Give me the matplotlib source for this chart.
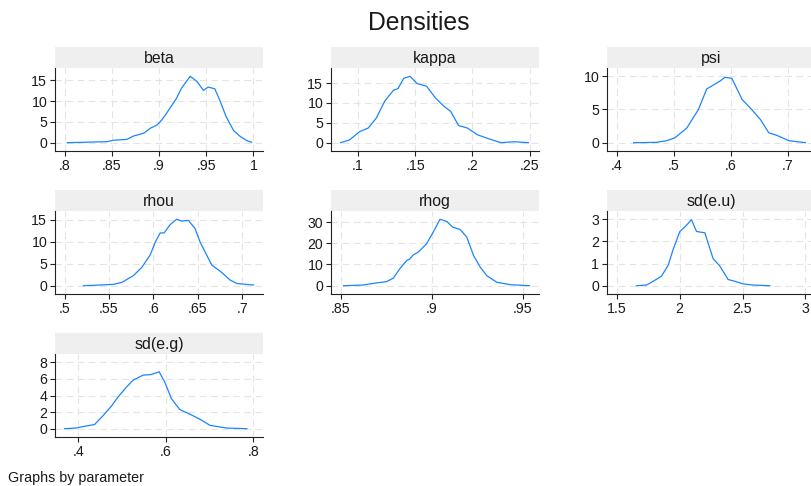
import matplotlib
matplotlib.use("Agg")
import matplotlib.pyplot as plt
import numpy as np

plt.rcParams['font.family'] = ['Liberation Sans', 'DejaVu Sans']

# ---- data (kernel density curves) ----
beta_x = [.803, .82, .845, .852, .866, .873, .884, .891, .898, .903, .908, .918, .924, .933,
          .940, .947, .952, .959, .964, .971, .979, .986, .993, .998]
beta_y = [0.0, 0.1, 0.25, 0.6, 0.8, 1.6, 2.3, 3.5, 4.3, 5.5, 7.1, 10.5, 13.2, 16.0,
          14.8, 12.6, 13.4, 13.0, 10.4, 6.3, 2.9, 1.5, 0.5, 0.1]

kappa_x = [.0847, .0926, .1015, .109, .116, .1235, .131, .135, .140, .1456, .1515, .160,
           .1676, .175, .181, .188, .1956, .2044, .2132, .225, .2368, .249]
kappa_y = [0.0, 0.7, 2.8, 3.7, 6.2, 10.5, 13.2, 13.6, 16.2, 16.7, 14.9, 14.2,
           11.3, 9.2, 7.9, 4.3, 3.7, 2.0, 1.1, 0.0, 0.25, 0.0]

psi_x = [.430, .470, .488, .5025, .523, .5435, .558, .570, .5816, .590, .602, .620,
         .634, .652, .6666, .681, .702, .731]
psi_y = [0.0, 0.05, 0.3, 0.75, 2.2, 5.0, 8.1, 8.7, 9.3, 9.85, 9.7, 6.5,
         5.25, 3.5, 1.5, 1.1, 0.3, 0.0]

rhou_x = [.5213, .540, .555, .5644, .5775, .587, .5963, .602, .6075, .612, .6187, .626,
          .6318, .6393, .6468, .6524, .6655, .6768, .686, .6936, .7124]
rhou_y = [0.0, 0.15, 0.3, 0.75, 2.3, 4.2, 7.0, 9.9, 12.0, 12.0, 13.9, 15.1,
          14.7, 14.85, 12.95, 9.9, 4.7, 3.0, 1.3, 0.5, 0.15]

rhog_x = [.8517, .8623, .8697, .8752, .8789, .8825, .8862, .888, .8899, .8926, .8972, .9009,
          .9046, .9083, .9116, .9156, .9193, .923, .9267, .9303, .9358, .9432, .9537]
rhog_y = [0.0, 0.3, 1.3, 1.9, 3.5, 7.9, 11.8, 12.6, 14.5, 15.8, 19.7, 25.3,
          31.3, 30.3, 27.6, 26.5, 22.9, 14.2, 8.7, 4.7, 1.6, 0.5, 0.0]

sdeu_x = [1.659, 1.738, 1.791, 1.857, 1.91, 1.95, 2.003, 2.042, 2.095, 2.135, 2.201, 2.267,
          2.32, 2.386, 2.439, 2.505, 2.585, 2.717]
sdeu_y = [0.0, 0.03, 0.2, 0.43, 0.92, 1.65, 2.45, 2.65, 2.98, 2.45, 2.39, 1.22,
          0.89, 0.28, 0.2, 0.08, 0.03, 0.0]

sdeg_x = [.368, .3946, .4176, .4367, .4558, .475, .490, .5094, .5247, .5476, .5667, .5843,
          .5973, .6126, .6317, .6547, .6776, .7006, .7388, .7847]
sdeg_y = [0.0, 0.08, 0.33, 0.5, 1.55, 2.7, 3.8, 5.0, 5.85, 6.45, 6.53, 6.86,
          5.6, 3.6, 2.3, 1.75, 1.14, 0.4, 0.08, 0.0]

params = ["beta", "kappa", "psi", "rhou", "rhog", "sd(e.u)", "sd(e.g)"]
xs = [beta_x, kappa_x, psi_x, rhou_x, rhog_x, sdeu_x, sdeg_x]
ys = [beta_y, kappa_y, psi_y, rhou_y, rhog_y, sdeu_y, sdeg_y]
xticks = [[.8, .85, .9, .95, 1], [.1, .15, .2, .25], [.4, .5, .6, .7],
          [.5, .55, .6, .65, .7], [.85, .9, .95], [1.5, 2, 2.5, 3], [.4, .6, .8]]
yticks = [[0, 5, 10, 15], [0, 5, 10, 15], [0, 5, 10], [0, 5, 10, 15],
          [0, 10, 20, 30], [0, 1, 2, 3], [0, 2, 4, 6, 8]]

#%%
W, H = 811, 486
LINE = "#1a85ff"
BAR = "#efefef"
GRID = "#e4e4e4"

col_left = [55, 331, 607]
row_top = [47, 190, 333]
ax_w, bar_h, ax_h = 208, 21, 83
pad = 9.5  # pixel margin inside plot region


def stata_fmt(v, _):
    s = f'{v:g}'
    if s.startswith('0.'):
        s = s[1:]
    return s


def add_px_axes(fig, left, top, width, height):
    return fig.add_axes([left / W, 1 - (top + height) / H, width / W, height / H])


fig = plt.figure(figsize=(W / 100, H / 100), dpi=100)
fig.patch.set_facecolor('white')

for i, name in enumerate(params):
    r, c = divmod(i, 3)
    left, top = col_left[c], row_top[r]

    # title strip
    bar = add_px_axes(fig, left, top, ax_w, bar_h)
    bar.set_facecolor(BAR)
    bar.set_xticks([])
    bar.set_yticks([])
    for s in bar.spines.values():
        s.set_visible(False)
    bar.text(0.5, 0.45, name, ha='center', va='center', fontsize=11.4, color='#1a1a1a',
             transform=bar.transAxes)

    ax = add_px_axes(fig, left, top + bar_h, ax_w, ax_h)
    ax.plot(xs[i], ys[i], color=LINE, lw=0.9, zorder=3)

    xlo = min(xticks[i][0], min(xs[i]))
    xhi = max(xticks[i][-1], max(xs[i]))
    xm = (xhi - xlo) * pad / (ax_w - 2 * pad)
    ax.set_xlim(xlo - xm, xhi + xm)
    ylo = min(yticks[i][0], min(ys[i]))
    yhi = max(yticks[i][-1], max(ys[i]))
    ym = (yhi - ylo) * 8.3 / (ax_h - 2 * 8.3)
    ax.set_ylim(ylo - ym, yhi + ym)

    ax.set_xticks(xticks[i])
    ax.set_yticks(yticks[i])
    ax.xaxis.set_major_formatter(plt.FuncFormatter(stata_fmt))
    ax.yaxis.set_major_formatter(plt.FuncFormatter(stata_fmt))
    ax.grid(True, color=GRID, lw=0.8, ls=(0, (6, 4)), zorder=0)
    ax.spines['top'].set_visible(False)
    ax.spines['right'].set_visible(False)
    ax.spines['left'].set_color('#222222')
    ax.spines['bottom'].set_color('#222222')
    ax.spines['left'].set_linewidth(0.8)
    ax.spines['bottom'].set_linewidth(0.8)
    ax.tick_params(length=3.6, width=0.8, colors='#222222', labelsize=10.2, pad=2,
                   labelcolor='#1a1a1a')
    ax.set_facecolor('white')

fig.text(419 / W, 1 - 29.5 / H, "Densities", ha='center', va='baseline', fontsize=17.8,
         color='#1a1a1a')
fig.text(8 / W, 1 - 478 / H, "Graphs by parameter", ha='left', va='center', fontsize=10.3,
         color='#1a1a1a')

fig.savefig("out.png", dpi=100)
